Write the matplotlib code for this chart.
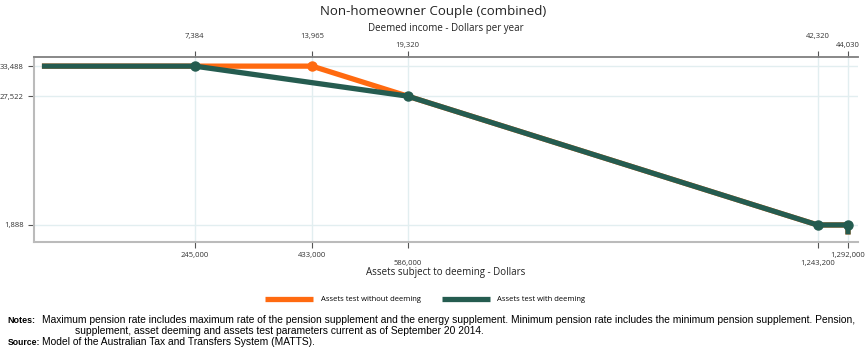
import matplotlib
matplotlib.use('Agg')
import matplotlib.pyplot as plt

plt.rcParams['font.family'] = ['Open Sans', 'DejaVu Sans']

# assets (dollars) and pension (dollars per year)
assets_no_deem = [0, 245000, 433000, 586000, 1243200, 1292000, 1292000]
pension_no_deem = [33488, 33488, 33488, 27522, 1888, 1888, 0]
assets_deem = [0, 245000, 586000, 1243200, 1292000, 1292000]
pension_deem = [33488, 33488, 27522, 1888, 1888, 0]

marker_no_deem = [433000]
marker_no_deem_y = [33488]
marker_deem = [245000, 586000, 1243200, 1292000]
marker_deem_y = [33488, 27522, 1888, 1888]

asset_ticks = [245000, 433000, 586000, 1243200, 1292000]
asset_labels = ['245,000', '433,000', '586,000', '1,243,200', '1,292,000']
income_labels = ['7,384', '13,965', '19,320', '42,320', '44,030']
pension_ticks = [1888, 27522, 33488]
pension_labels = ['1,888', '27,522', '33,488']

orange = '#FF6A10'
green = '#255C50'
grid_c = '#E2EEF0'
note_font = ['Liberation Sans Narrow', 'Liberation Sans']

fig = plt.figure(figsize=(8.67, 3.49), dpi=100)
ax = fig.add_axes([0.039, 0.3066, 0.9506, 0.53])

ax.plot(assets_no_deem, pension_no_deem, color=orange, lw=3.8, solid_capstyle='butt',
        label='Assets test without deeming', zorder=2)
ax.plot(marker_no_deem, marker_no_deem_y, 'o', color=orange, ms=6.5, zorder=2)
ax.plot(assets_deem, pension_deem, color=green, lw=3.8, solid_capstyle='butt',
        label='Assets test with deeming', zorder=3)
ax.plot(marker_deem, marker_deem_y, 'o', color=green, ms=6.5, zorder=3)

ax.set_xlim(-13000, 1308000)
ax.set_ylim(-1500, 35300)

ax.set_xticks(asset_ticks)
ax.set_xticklabels(asset_labels, fontsize=5.5, color='#333333')
ax.set_yticks(pension_ticks)
ax.set_yticklabels(pension_labels, fontsize=5.5, color='#333333')
ax.tick_params(axis='both', length=4, width=0.8, color='#555555')
for i, t in enumerate(ax.xaxis.get_major_ticks()):
    if i in (2, 3):
        t.set_pad(9)
    else:
        t.set_pad(3)
ax.grid(True, color=grid_c, lw=1)
ax.set_axisbelow(True)

ax.set_xlabel('Assets subject to deeming - Dollars', fontsize=7, labelpad=0, color='#222222')

ax.spines['right'].set_visible(False)
ax.spines['left'].set_color('#BBBBBB')
ax.spines['left'].set_linewidth(1.5)
ax.spines['bottom'].set_color('#BBBBBB')
ax.spines['bottom'].set_linewidth(1.5)
ax.spines['top'].set_color('#888888')
ax.spines['top'].set_linewidth(1.2)

top = ax.twiny()
top.set_xlim(ax.get_xlim())
top.set_xticks(asset_ticks)
top.set_xticklabels(income_labels, fontsize=5.5, color='#333333')
top.tick_params(axis='x', length=4, width=0.8, color='#555555')
for i, t in enumerate(top.xaxis.get_major_ticks()):
    if i in (2, 4):
        t.set_pad(1.5)
    else:
        t.set_pad(8)
for s in ['right', 'left', 'bottom']:
    top.spines[s].set_visible(False)
top.spines['top'].set_color('#888888')
top.spines['top'].set_linewidth(1.2)
top.set_xlabel('Deemed income - Dollars per year', fontsize=7, labelpad=1.5, color='#222222')

fig.text(0.5, 0.968, 'Non-homeowner Couple (combined)', ha='center', va='center',
         fontsize=9.5, color='#222222')

ax.legend(loc='upper center', bbox_to_anchor=(0.475, -0.255), ncol=2, frameon=False,
          fontsize=5.5, handlelength=6.3, columnspacing=2.7, handletextpad=1.0)

fig.text(0.009, 0.083, 'Notes:', fontsize=6.4, fontweight='bold', va='center',
         family=['Liberation Sans'])
fig.text(0.048, 0.083, 'Maximum pension rate includes maximum rate of the pension supplement and the energy supplement. '
         'Minimum pension rate includes the minimum pension supplement. Pension,',
         fontsize=7.4, va='center', family=note_font)
fig.text(0.087, 0.051, 'supplement, asset deeming and assets test parameters current as of September 20 2014.',
         fontsize=7.4, va='center', family=note_font)
fig.text(0.009, 0.020, 'Source:', fontsize=6.2, fontweight='bold', va='center',
         family=['Liberation Sans'])
fig.text(0.048, 0.020, 'Model of the Australian Tax and Transfers System (MATTS).',
         fontsize=7.4, va='center', family=note_font)

fig.savefig('out.png', dpi=100)
